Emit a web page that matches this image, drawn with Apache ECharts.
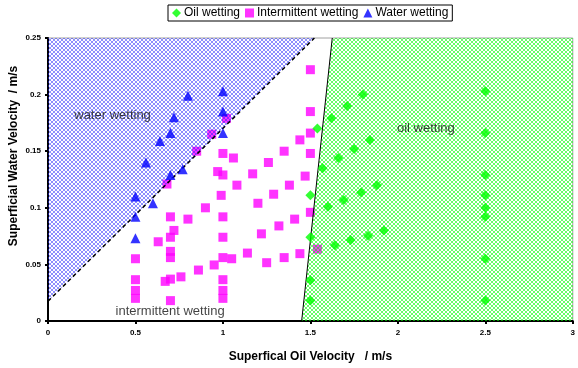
<!DOCTYPE html>
<html><head><meta charset="utf-8">
<script src="https://cdn.jsdelivr.net/npm/echarts@6/dist/echarts.min.js"></script>
<style>html,body{margin:0;padding:0;background:#fff}#c{width:578px;height:368px}</style>
</head><body><div id="c"></div>
<script>
// ---------- data ----------
const xTicks = [0, 0.5, 1, 1.5, 2, 2.5, 3];
const yTicks = [0, 0.05, 0.1, 0.15, 0.2, 0.25];

const seriesNames = ['Oil wetting', 'Intermittent wetting', 'Water wetting'];

const oilWetting = [
  [1.5,0.018],[1.5,0.036],[1.5,0.074],[1.5,0.111],
  [1.54,0.17],[1.62,0.179],[1.71,0.19],[1.8,0.2],
  [1.57,0.135],[1.66,0.144],[1.75,0.152],[1.84,0.16],
  [1.6,0.101],[1.69,0.107],[1.79,0.1135],[1.88,0.12],
  [1.64,0.067],[1.73,0.0716],[1.83,0.0754],[1.92,0.08],
  [2.5,0.018],[2.5,0.055],[2.5,0.092],[2.5,0.1],[2.5,0.111],[2.5,0.129],[2.5,0.166],[2.5,0.203]
];

const intermittentWetting = [
  [0.68,0.121],[0.85,0.15],[0.936,0.165],[1.02,0.179],
  [1.0,0.148],[1.06,0.144],[1.26,0.14],[0.97,0.132],[1.0,0.129],[1.17,0.13],[1.08,0.12],
  [0.99,0.111],[1.29,0.112],[1.2,0.104],[0.9,0.1],[0.7,0.092],[0.8,0.09],[1.0,0.092],
  [1.32,0.084],[0.72,0.08],[0.7,0.074],[0.63,0.07],[1.0,0.074],[1.22,0.077],
  [0.7,0.0615],[0.7,0.056],[0.5,0.055],[1.0,0.056],[1.05,0.055],[1.14,0.06],[1.25,0.0515],
  [0.95,0.0495],[0.86,0.045],[0.76,0.039],[0.7,0.037],[0.67,0.035],
  [0.5,0.0365],[1.0,0.0365],[0.5,0.027],[0.5,0.02],[0.7,0.018],[1.0,0.027],[1.0,0.02],
  [1.5,0.222],[1.5,0.185],[1.5,0.166],[1.44,0.16],[1.35,0.15],[1.5,0.148],[1.47,0.128],
  [1.38,0.12],[1.5,0.096],[1.41,0.09],[1.44,0.0595],[1.35,0.056],[1.54,0.0635]
];

const waterWetting = [
  [0.5,0.073],[0.5,0.092],[0.5,0.110],[0.56,0.14],[0.6,0.104],[0.64,0.159],
  [0.7,0.129],[0.7,0.166],[0.72,0.18],[0.77,0.134],[0.8,0.199],
  [1.0,0.166],[1.0,0.185],[1.0,0.203]
];

// regime boundaries (data coordinates)
const waterBoundary = [[0, 0.0175], [1.523, 0.25]];
const oilBoundary = [[1.45, 0], [1.625, 0.25]];

const regionLabels = ['water wetting', 'oil wetting', 'intermittent wetting'];
const regionLabelAt = [[0.369, 0.1815], [2.16, 0.17], [0.698, 0.0085]];

const xTitle = 'Superfical Oil Velocity   / m/s';
const yTitle = 'Superficial Water Velocity  / m/s';

// ---------- chart ----------
const xMin = xTicks[0], xMax = xTicks[xTicks.length - 1];
const yMin = yTicks[0], yMax = yTicks[yTicks.length - 1];

function makePattern(color) {
  const c = document.createElement('canvas');
  c.width = 4; c.height = 4;
  const g = c.getContext('2d');
  g.fillStyle = color;
  const px = [[1,0],[2,0],[0,1],[3,1],[0,2],[3,2],[1,3],[2,3]];
  px.forEach(p => g.fillRect(p[0], p[1], 1, 1));
  return c;
}
const bluePattern = { image: makePattern('rgba(30,30,255,0.5)'), repeat: 'repeat' };
const greenPattern = { image: makePattern('rgba(0,255,0,0.6)'), repeat: 'repeat' };

const waterRegion = [[xMin, yMax], waterBoundary[0], waterBoundary[1]];
const oilRegion = [oilBoundary[0], oilBoundary[1], [xMax, yMax], [xMax, yMin]];

function regionSeries(poly, fill) {
  return {
    type: 'custom', silent: true, z: 3, data: [[xMin, yMin]],
    renderItem: function (params, api) {
      return { type: 'polygon', shape: { points: poly.map(p => api.coord(p)) }, style: { fill: fill } };
    }
  };
}

const FONT = 'Liberation Sans';
const axisLabel = { color: '#000', fontWeight: 'bold', fontSize: 8, fontFamily: FONT };

const chart = echarts.init(document.getElementById('c'), null, { renderer: 'canvas' });
chart.setOption({
  animation: false,
  backgroundColor: '#fff',
  grid: { left: 48, right: 2, top: 38, bottom: 41.5, show: true, borderColor: '#a0a0a0', borderWidth: 1 },
  legend: {
    data: [
      { name: seriesNames[0], icon: 'diamond' },
      { name: seriesNames[1], icon: 'rect' },
      { name: seriesNames[2], icon: 'triangle' }
    ],
    left: 168, top: 5,
    padding: [2, 4, 2, 4], itemGap: 5, itemWidth: 9, itemHeight: 9,
    borderColor: '#000', borderWidth: 1, borderRadius: 0,
    textStyle: { color: '#000', fontSize: 12, fontFamily: FONT, padding: [0, 0, 0, -2] }
  },
  xAxis: {
    type: 'value', min: xMin, max: xMax, interval: xTicks[1] - xTicks[0],
    name: xTitle, nameLocation: 'middle', nameGap: 30,
    nameTextStyle: { color: '#000', fontWeight: 'bold', fontSize: 12, fontFamily: FONT },
    axisLine: { lineStyle: { color: '#000', width: 2 } },
    axisTick: { length: 3, lineStyle: { color: '#000', width: 2 } },
    axisLabel: Object.assign({ margin: 8 }, axisLabel),
    splitLine: { show: false }
  },
  yAxis: {
    type: 'value', min: yMin, max: yMax, interval: yTicks[1] - yTicks[0],
    axisLine: { lineStyle: { color: '#000', width: 2 } },
    axisTick: { length: 3, lineStyle: { color: '#000', width: 2 } },
    axisLabel: Object.assign({ margin: 7 }, axisLabel),
    splitLine: { show: false }
  },
  graphic: [{
    type: 'text', x: 14, y: 156, rotation: Math.PI / 2,
    style: { text: yTitle, fill: '#000', font: 'bold 12px "Liberation Sans"', textAlign: 'center', textVerticalAlign: 'middle' }
  }],
  series: [
    {
      name: seriesNames[1], type: 'scatter', z: 2, symbol: 'rect', symbolSize: 9,
      itemStyle: { color: '#ff00ff' }, data: intermittentWetting
    },
    regionSeries(waterRegion, bluePattern),
    regionSeries(oilRegion, greenPattern),
    {
      type: 'line', z: 4, silent: true, symbol: 'none', data: waterBoundary,
      lineStyle: { color: '#000', width: 1.5, type: [4, 3] }
    },
    {
      type: 'line', z: 4, silent: true, symbol: 'none', data: oilBoundary,
      lineStyle: { color: '#000', width: 1 }
    },
    {
      name: seriesNames[0], type: 'scatter', z: 5, symbol: 'diamond', symbolSize: 10,
      itemStyle: { color: '#00ff00' }, data: oilWetting
    },
    {
      name: seriesNames[2], type: 'scatter', z: 5, symbol: 'triangle', symbolSize: 10,
      itemStyle: { color: '#0000ff' }, data: waterWetting
    },
    {
      type: 'scatter', z: 6, silent: true, symbolSize: 0,
      data: regionLabels.map((n, i) => ({ name: n, value: regionLabelAt[i] })),
      label: { show: true, position: 'inside', formatter: '{b}', color: '#111', fontSize: 13, fontFamily: FONT }
    }
  ]
});
</script></body></html>
